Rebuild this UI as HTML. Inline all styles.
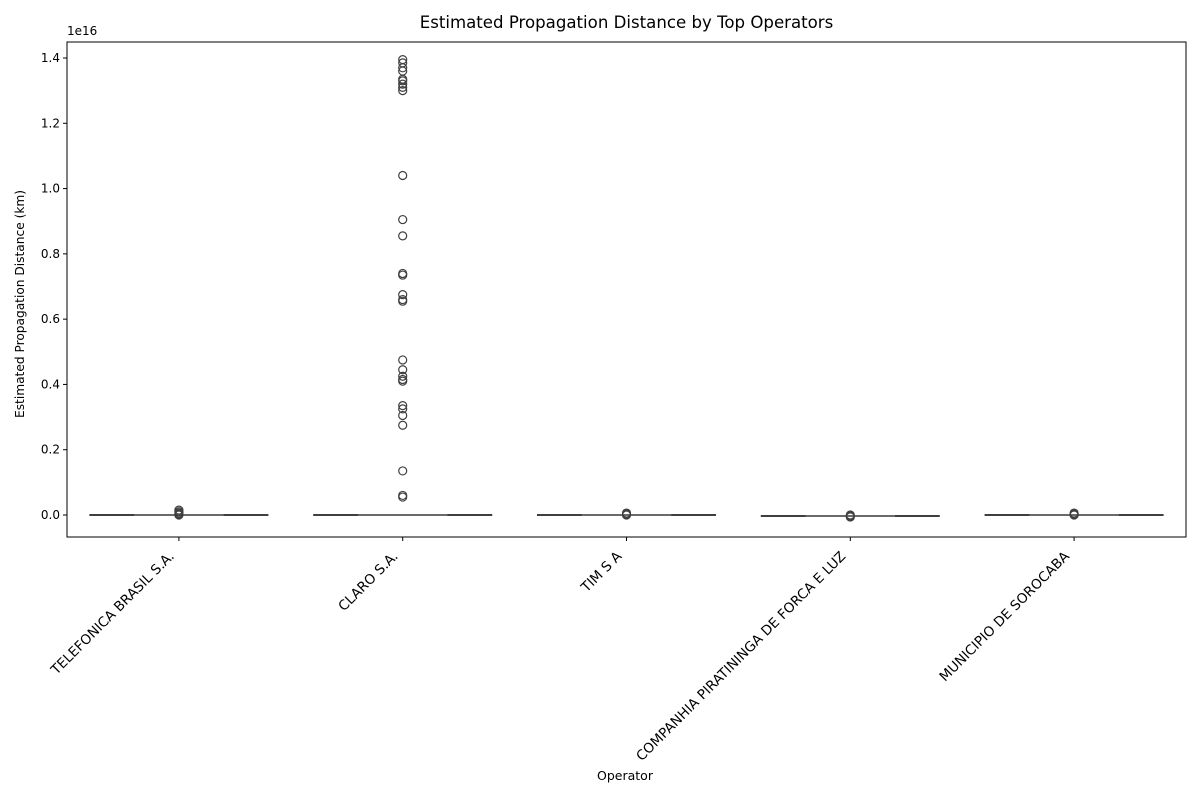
<!DOCTYPE html>
<html><head><meta charset="utf-8"><style>
body{margin:0;background:#fff;font-family:"DejaVu Sans","Liberation Sans",sans-serif;}
</style></head><body>
<svg id="chart" width="1200" height="800" xmlns="http://www.w3.org/2000/svg" font-family="DejaVu Sans, Liberation Sans, sans-serif"></svg>
<script>
const categories=["TELEFONICA BRASIL S.A.","CLARO S.A.","TIM S A","COMPANHIA PIRATININGA DE FORCA E LUZ","MUNICIPIO DE SOROCABA"];
const medians=[0,0,0,-0.003,0];
const outliers=[
 [0.015,0.01,0.006,0.003,0],
 [1.395,1.385,1.37,1.36,1.335,1.33,1.32,1.31,1.30,1.04,0.905,0.855,0.74,0.735,0.675,0.66,0.655,0.475,0.445,0.425,0.415,0.41,0.335,0.325,0.305,0.275,0.135,0.06,0.055],
 [0.006,0.003,0],
 [0,-0.003,-0.006],
 [0.006,0.003,0]
];
const yTicks=[0,0.2,0.4,0.6,0.8,1.0,1.2,1.4];
const svg=document.getElementById('chart');
const NS="http://www.w3.org/2000/svg";
const L=67,R=1186,T=42,B=537;
const y=v=>515-v*(515-58)/1.4;
const step=(R-L)/categories.length;
const x=i=>L+step*(i+0.5);
function mk(t,a,txt){const e=document.createElementNS(NS,t);for(const k in a)e.setAttribute(k,a[k]);if(txt!=null)e.textContent=txt;svg.appendChild(e);return e;}
let e;
e=mk('rect',{x:L,y:T,width:R-L,height:B-T,fill:'none',stroke:'#000','stroke-width':1});

yTicks.forEach(v=>{
 e=mk('line',{x1:L-4,x2:L,y1:y(v),y2:y(v),stroke:'#000'});
 
 e=mk('text',{x:L-7,y:y(v)+4,'text-anchor':'end','font-size':12},v.toFixed(1));
 
});
e=mk('text',{x:L,y:35,'font-size':12},'1e16');

categories.forEach((c,i)=>{
 const cx=x(i),w=step*0.8;
 e=mk('line',{x1:cx-w/2,x2:cx+w/2,y1:y(medians[i]),y2:y(medians[i]),stroke:'#3f3f3f','stroke-width':2});
 
 e=mk('line',{x1:cx-w/4,x2:cx+w/4,y1:y(medians[i]),y2:y(medians[i]),stroke:'#6a6a6a','stroke-width':2});
 
 outliers[i].forEach(v=>{
  e=mk('circle',{cx:cx,cy:y(v),r:4,fill:'none',stroke:'#3f3f3f','stroke-width':1.2});
  
 });
 e=mk('line',{x1:cx,x2:cx,y1:B,y2:B+4,stroke:'#000'});
 
 e=mk('text',{x:cx-4,y:B+20,'text-anchor':'end','font-size':13.6,transform:`rotate(-45 ${cx-4} ${B+20})`},c);
 
});
e=mk('text',{x:(L+R)/2,y:28,'text-anchor':'middle','font-size':16.6},'Estimated Propagation Distance by Top Operators');

e=mk('text',{x:625,y:780,'text-anchor':'middle','font-size':12.5},'Operator');

e=mk('text',{x:24,y:304,'text-anchor':'middle','font-size':12.2,transform:'rotate(-90 24 304)'},'Estimated Propagation Distance (km)');

</script>
</body></html>
